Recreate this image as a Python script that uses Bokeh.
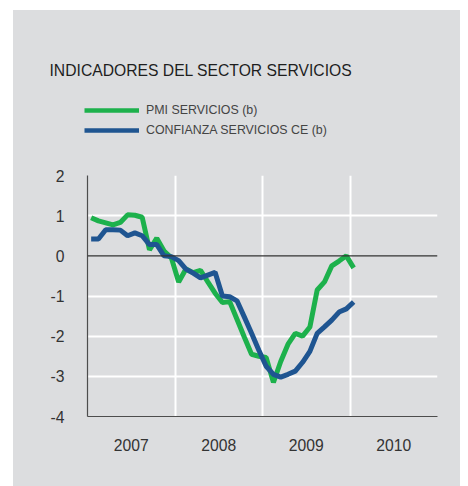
from bokeh.plotting import figure
from bokeh.layouts import column
from bokeh.models import Range1d, FixedTicker, Span, Label, Legend, LegendItem, ColumnDataSource
from bokeh.embed import file_html
from bokeh.resources import INLINE

# ---- data -------------------------------------------------------------
title_text = "INDICADORES DEL SECTOR SERVICIOS"
series_names = ["PMI SERVICIOS (b)", "CONFIANZA SERVICIOS CE (b)"]
year_ticks = [2007, 2008, 2009, 2010]
year_labels = ["2007", "2008", "2009", "2010"]
y_ticks = [-4, -3, -2, -1, 0, 1, 2]
y_labels = ["-4", "-3", "-2", "-1", "0", "1", "2"]

# monthly observations, Jan 2007 .. Jan 2010
pmi = [0.95, 0.87, 0.82, 0.77, 0.83, 1.02, 1.01, 0.96, 0.15, 0.44, 0.12, -0.05,
       -0.65, -0.33, -0.42, -0.36, -0.65, -0.93, -1.16, -1.14, -1.58, -2.02, -2.45, -2.50,
       -2.53, -3.15, -2.63, -2.20, -1.93, -2.00, -1.77, -0.85, -0.65, -0.25, -0.13, 0.00,
       -0.30]
ce = [0.42, 0.42, 0.65, 0.65, 0.64, 0.50, 0.57, 0.50, 0.28, 0.28, 0.00, -0.02,
      -0.12, -0.33, -0.43, -0.55, -0.48, -0.41, -1.00, -1.02, -1.12, -1.52, -1.93, -2.35,
      -2.75, -2.95, -3.02, -2.95, -2.87, -2.65, -2.38, -1.93, -1.77, -1.60, -1.40, -1.32,
      -1.15]
month_index = list(range(len(pmi)))
x = [year_ticks[0] + (m + 0.5) / 12 for m in month_index]

src = ColumnDataSource(data=dict(x=x, pmi=pmi, ce=ce))

# ---- styling ----------------------------------------------------------
GRAY = "#dcdddf"
GREEN = "#1db14c"
BLUE = "#1f5591"
TXT = "#333333"
FONT = "Liberation Sans"
W = 447
NAN = float("nan")

# ---- header (title + legend) -------------------------------------------
HDR_H = 150
hdr = figure(width=W, height=HDR_H, x_range=Range1d(0, W), y_range=Range1d(0, HDR_H),
             x_axis_type=None, y_axis_type=None, output_backend="svg", toolbar_location=None,
             min_border=0, background_fill_color=GRAY, border_fill_color=GRAY,
             outline_line_color=None)
hdr.frame_align = False
hdr.grid.visible = False
hdr.add_layout(Label(x=36, y=90, text=title_text,
                     text_font=FONT, text_font_size="15.7px", text_color="#1e1e1e",
                     text_baseline="alphabetic", text_align="left"))
# legend proxies (no visible data)
g1 = hdr.line(x=[NAN, NAN], y=[NAN, NAN], line_color=GREEN, line_width=4.5)
g2 = hdr.line(x=[NAN, NAN], y=[NAN, NAN], line_color=BLUE, line_width=4.5)
legend = Legend(items=[LegendItem(label=series_names[0], renderers=[g1]),
                       LegendItem(label=series_names[1], renderers=[g2])],
                location=(71, 20), orientation="vertical",
                glyph_width=55, glyph_height=20, label_height=20, label_standoff=7,
                spacing=0, padding=0, margin=0,
                border_line_color=None, background_fill_alpha=0,
                label_text_font=FONT, label_text_font_size="12.4px", label_text_color="#444444")
hdr.add_layout(legend)

# ---- main chart --------------------------------------------------------
p = figure(width=W, height=326,
           x_range=Range1d(2007, 2011), y_range=Range1d(-4, 2),
           output_backend="svg", toolbar_location=None,
           min_border_left=74, min_border_right=23, min_border_top=15, min_border_bottom=70,
           background_fill_color=GRAY, border_fill_color=GRAY,
           outline_line_color=None)
p.frame_align = False

p.xgrid.ticker = FixedTicker(ticks=[y + 1 for y in year_ticks])
p.ygrid.ticker = FixedTicker(ticks=[t for t in y_ticks if t not in (0, -4)])
p.grid.grid_line_color = "white"
p.grid.grid_line_width = 2

p.xaxis.ticker = FixedTicker(ticks=[y + 0.5 for y in year_ticks])
p.xaxis.major_label_overrides = {y + 0.5: lab for y, lab in zip(year_ticks, year_labels)}
p.yaxis.ticker = FixedTicker(ticks=y_ticks)
p.yaxis.major_label_overrides = {t: lab for t, lab in zip(y_ticks, y_labels)}
for ax in (p.xaxis[0], p.yaxis[0]):
    ax.major_tick_line_color = None
    ax.minor_tick_line_color = None
    ax.major_tick_out = 0
    ax.major_tick_in = 0
    ax.minor_tick_out = 0
    ax.minor_tick_in = 0
    ax.axis_line_color = "#4d4d4d"
    ax.axis_line_width = 1.2
    ax.major_label_text_font = FONT
    ax.major_label_text_font_size = "15.7px"
    ax.major_label_text_color = TXT
p.xaxis.major_label_standoff = 22
p.yaxis.major_label_standoff = 23

p.add_layout(Span(location=0, dimension="width", line_color="#333333", line_width=1.2))

p.line("x", "pmi", source=src, line_color=GREEN, line_width=5)
p.line("x", "ce", source=src, line_color=BLUE, line_width=5)

layout = column(hdr, p, spacing=0, margin=(10, 0, 0, 13),
                styles={"background-color": GRAY})

open("out.html", "w").write(file_html(layout, INLINE))
